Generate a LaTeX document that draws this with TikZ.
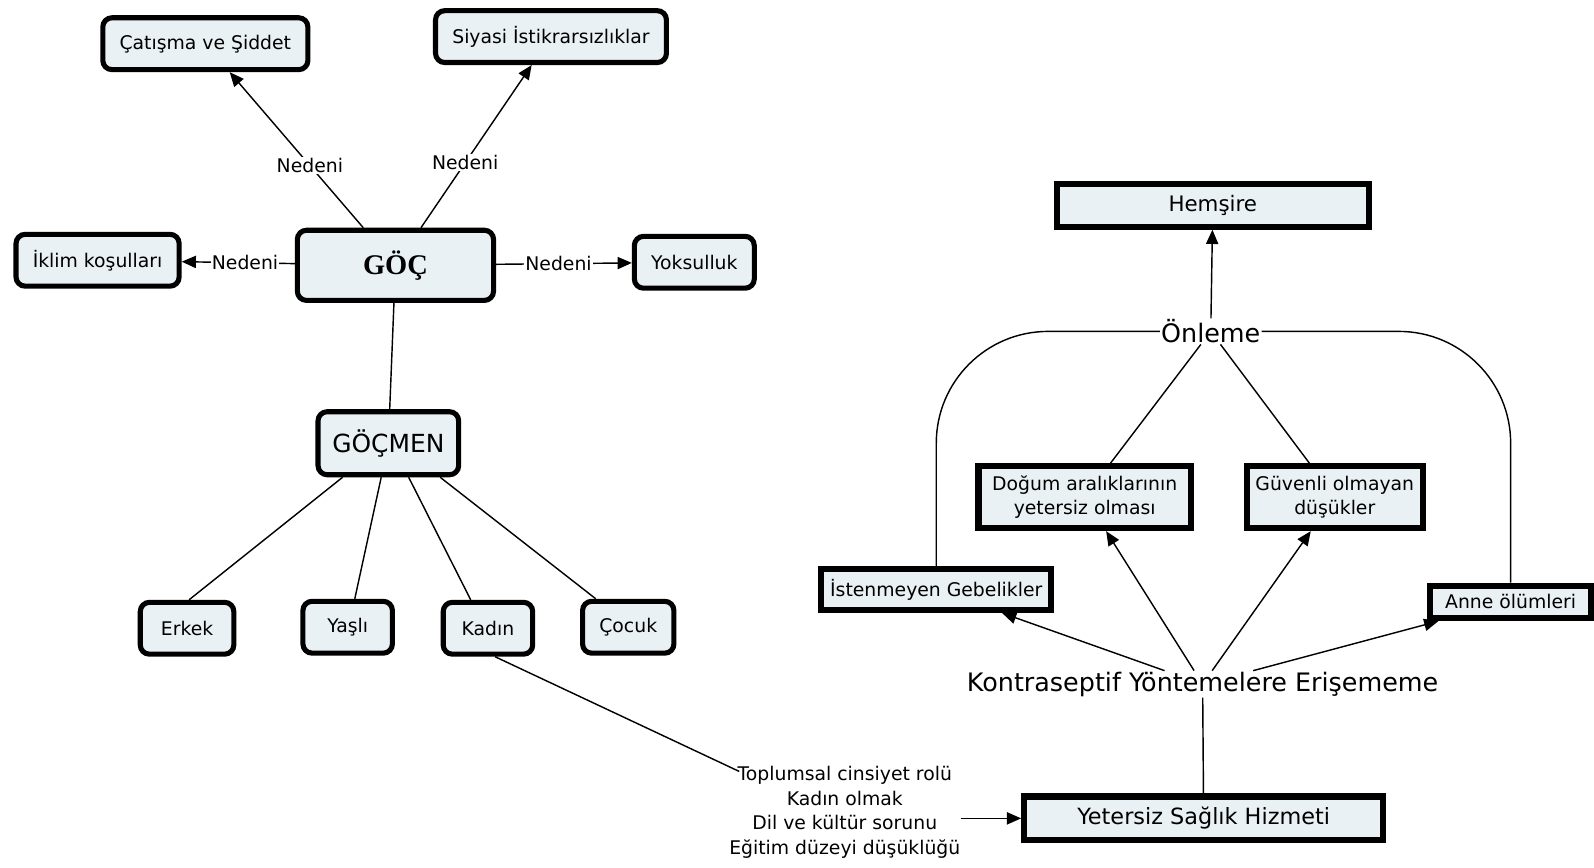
\documentclass[tikz,border=0pt]{standalone}
\usepackage{fontspec}
\setmainfont{DejaVu Sans}
\newfontfamily\serifyazi{Liberation Serif}
\usetikzlibrary{arrows.meta}
\definecolor{kuturengi}{RGB}{234,241,244}

\begin{document}
\begin{tikzpicture}[x=1pt, y=-1pt,
  yazi/.style={font=\fontsize{18.5}{24}\selectfont},
  kutu/.style={yazi, draw, line width=5pt, rounded corners=9pt, fill=kuturengi, inner xsep=16.5pt, minimum height=51pt},
  kare/.style={yazi, draw, line width=6pt, fill=kuturengi, inner xsep=8pt, inner ysep=3pt, align=center},
  etiket/.style={yazi, fill=white, inner sep=1pt},
  buyuk/.style={font=\fontsize{25}{30}\selectfont, inner sep=1pt},
  bag/.style={line width=1.4pt},
  ok/.style={bag, -{Triangle[length=14pt, width=12pt]}}]
  \useasboundingbox (0,0) rectangle (1568,853);

  \node [kutu] (catisma) at (202,43) {Çatışma ve Şiddet};
  \node [kutu] (siyasi) at (542,36) {Siyasi İstikrarsızlıklar};
  \node [kutu] (iklim) at (96,256) {İklim koşulları};
  \node [kutu, minimum width=193pt, minimum height=69pt, font=\serifyazi\bfseries\fontsize{28}{30}\selectfont] (goc) at (389,261) {GÖÇ};
  \node [kutu] (yoksulluk) at (683,258) {Yoksulluk};
  \node [kutu, minimum height=62pt, inner xsep=14pt, font=\fontsize{24.5}{28}\selectfont] (gocmen) at (382,436) {GÖÇMEN};
  \node [kutu, minimum width=92pt] (erkek) at (184,618) {Erkek};
  \node [kutu, minimum width=88pt] (yasli) at (342,617) {Yaşlı};
  \node [kutu, minimum width=88pt] (kadin) at (480,618) {Kadın};
  \node [kutu, minimum width=85pt] (cocuk) at (618,617) {Çocuk};
  \node [yazi, align=center, inner sep=0pt] (etkenler) at (831,799) {Toplumsal cinsiyet rolü\\Kadın olmak\\Dil ve kültür sorunu\\Eğitim düzeyi düşüklüğü};

  \node [kare, minimum width=307pt, minimum height=42pt, font=\fontsize{21}{24}\selectfont] (hemsire) at (1193,202) {Hemşire};
  \node [buyuk] (onleme) at (1191,326) {Önleme};
  \node [kare, minimum width=209pt, minimum height=61pt] (dogum) at (1067,489) {Doğum aralıklarının\\yetersiz olması};
  \node [kare, minimum width=173pt, minimum height=61pt] (guvenli) at (1313,489) {Güvenli olmayan\\düşükler};
  \node [kare, minimum width=226pt, minimum height=40pt] (istenmeyen) at (921,580) {İstenmeyen Gebelikler};
  \node [kare, minimum width=158pt, minimum height=32pt] (anne) at (1486,592) {Anne ölümleri};
  \node [buyuk] (kontra) at (1183,673) {Kontraseptif Yöntemelere Erişememe};
  \node [kare, minimum width=353pt, minimum height=43pt, font=\fontsize{22}{26}\selectfont] (yetersiz) at (1184,805) {Yetersiz Sağlık Hizmeti};

  \draw [ok] (goc) -- node [etiket, pos=0.40] {Nedeni} (catisma);
  \draw [ok] (goc) -- node [etiket, pos=0.40] {Nedeni} (siyasi);
  \draw [ok] (goc) -- node [etiket, pos=0.44] {Nedeni} (iklim);
  \draw [ok] (goc) -- node [etiket, pos=0.46] {Nedeni} (yoksulluk);
  \draw [bag] (goc) -- (gocmen);
  \foreach \k/\a/\b in {erkek/-45/2, yasli/-7/7, kadin/20/-17, cocuk/51/-32}
    \draw [bag] ([xshift=\a pt]gocmen.south) -- ([xshift=\b pt]\k.north);
  \draw [bag] ([xshift=7pt]kadin.south) -- ([xshift=10pt, yshift=-5pt]etkenler.north west);
  \draw [ok] (etkenler.east |- yetersiz.west) -- (yetersiz.west);

  \draw [bag] (yetersiz) -- (kontra);
  \foreach \k in {istenmeyen, dogum, guvenli, anne}
    \draw [ok] (kontra) -- (\k);
  \draw [ok] (onleme) -- (hemsire);
  \draw [bag] (onleme) -- (dogum);
  \draw [bag] (onleme) -- (guvenli);
  \draw [bag, rounded corners=110pt] (onleme.west) -| (istenmeyen.north);
  \draw [bag, rounded corners=110pt] (onleme.east) -| (anne.north);
\end{tikzpicture}
\end{document}
